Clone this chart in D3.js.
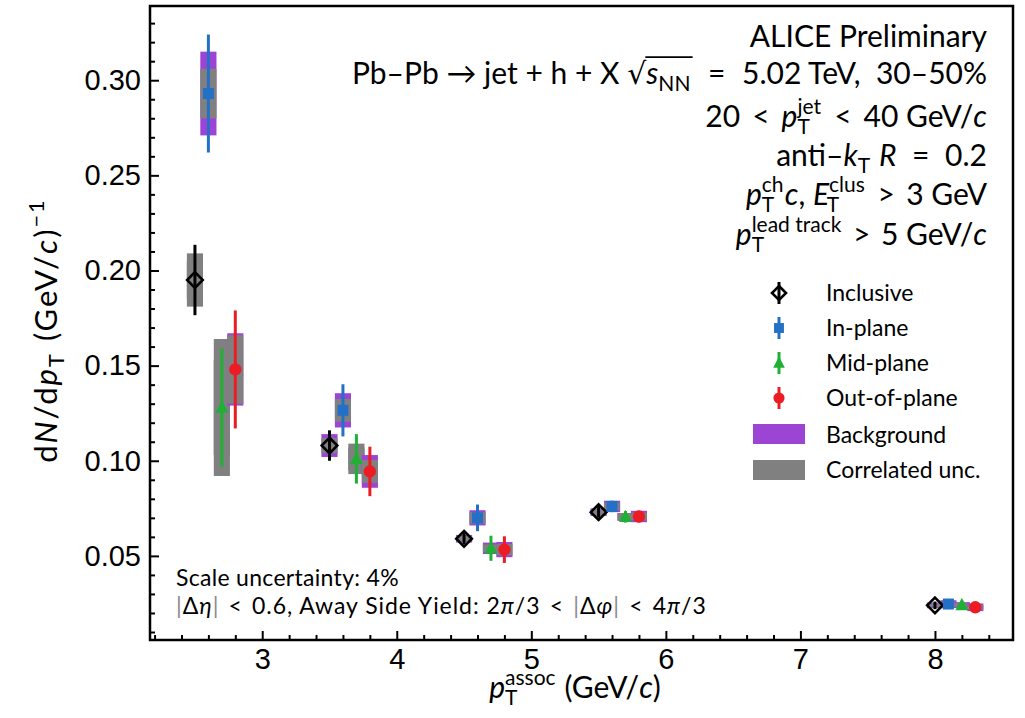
<!DOCTYPE html>
<html>
<head>
<meta charset="utf-8">
<script src="https://cdn.jsdelivr.net/npm/d3@7"></script>
<style>
  body { margin: 0; background: #fff; }
  svg { display: block; }
  svg text { white-space: pre; }
</style>
</head>
<body>
<svg id="chart" width="1025" height="718"></svg>
<script>
// ---- data -------------------------------------------------------------
// associated-hadron pT bin centres (GeV/c); selections are drawn slightly offset
const ptBins = [2.5, 3.5, 4.5, 5.5, 8.0];
const selectionNames = ["Inclusive", "In-plane", "Mid-plane", "Out-of-plane"];
const selectionOffsets = [0.0, 0.1, 0.2, 0.3];

// away-side yields dN/dpT and their uncertainties
const inclusiveYield = [0.195, 0.108, 0.059, 0.073, 0.024];
const inclusiveStat  = [0.0185, 0.008, 0.003, 0.003, 0.002];
const inclusiveBkg   = [0.010, 0.006, 0.002, 0.002, 0.0015];
const inclusiveCorr  = [0.014, 0.004, 0.0015, 0.0015, 0.001];

const inPlaneYield = [0.293, 0.1265, 0.070, 0.076, 0.0247];
const inPlaneStat  = [0.031, 0.0137, 0.007, 0.003, 0.002];
const inPlaneBkg   = [0.022, 0.009, 0.004, 0.003, 0.002];
const inPlaneCorr  = [0.013, 0.006, 0.003, 0.002, 0.001];

const midPlaneYield = [0.128, 0.101, 0.054, 0.0705, 0.0242];
const midPlaneStat  = [0.031, 0.013, 0.0066, 0.003, 0.002];
const midPlaneBkg   = [0.025, 0.006, 0.003, 0.002, 0.0015];
const midPlaneCorr  = [0.036, 0.008, 0.002, 0.002, 0.001];

const outPlaneYield = [0.148, 0.0944, 0.0533, 0.0707, 0.023];
const outPlaneStat  = [0.031, 0.013, 0.007, 0.003, 0.002];
const outPlaneBkg   = [0.019, 0.0086, 0.004, 0.003, 0.002];
const outPlaneCorr  = [0.018, 0.006, 0.003, 0.002, 0.001];

// axis ticks
const xMajorTicks = [3, 4, 5, 6, 7, 8];
const xMinorTicks = d3.range(2.2, 8.59, 0.2);
const yMajorTicks = [0.05, 0.10, 0.15, 0.20, 0.25, 0.30];
const yMinorTicks = d3.range(0.01, 0.335, 0.01);

// ---- styles ------------------------------------------------------------
const SANS = "Lato, 'Open Sans', sans-serif";
const TICKFONT = "'Liberation Sans', Arial, sans-serif";
const C_BLUE = "#2470c6", C_GREEN = "#1fb035", C_RED = "#ec1c24";
const C_PURPLE = "#9c44d4", C_GREY = "#808080";

const series = [
  { name: selectionNames[0], y: inclusiveYield, stat: inclusiveStat, bkg: inclusiveBkg, corr: inclusiveCorr, color: "#000", marker: "diamond" },
  { name: selectionNames[1], y: inPlaneYield,   stat: inPlaneStat,   bkg: inPlaneBkg,   corr: inPlaneCorr,   color: C_BLUE, marker: "square" },
  { name: selectionNames[2], y: midPlaneYield,  stat: midPlaneStat,  bkg: midPlaneBkg,  corr: midPlaneCorr,  color: C_GREEN, marker: "triangle" },
  { name: selectionNames[3], y: outPlaneYield,  stat: outPlaneStat,  bkg: outPlaneBkg,  corr: outPlaneCorr,  color: C_RED, marker: "circle" }
];
series.forEach((s, k) => {
  s.points = ptBins.map((pt, i) => ({ x: pt + selectionOffsets[k], y: s.y[i], stat: s.stat[i], bkg: s.bkg[i], corr: s.corr[i] }));
});

// ---- frame and scales --------------------------------------------------
const L = 150, T = 6, R = 1013, B = 640;
const svg = d3.select("#chart");
const x = d3.scaleLinear().domain([2.166, 8.58]).range([L, R]);
const y = d3.scaleLinear().domain([0.0058, 0.339]).range([B, T]);
const boxHalf = 0.06;

// ---- rich text helper (italics, sub/superscripts, operators, radicals) --
function rich(parent, parts, size, opt) {
  const g = parent.append("g");
  const fill = opt.fill || "#000";
  const ls = opt.ls || 0;
  const opPad = (opt.opPad !== undefined ? opt.opPad : 0.2) * size;
  let cx = 0;
  const rads = [];
  function put(txt, fs, dy, italic, family, color) {
    return g.append("text")
      .attr("x", cx).attr("y", dy)
      .attr("font-size", fs)
      .attr("font-family", family || SANS)
      .attr("font-style", italic ? "italic" : "normal")
      .attr("letter-spacing", ls)
      .attr("fill", color || fill)
      .text(txt);
  }
  const len = t => t.node().getComputedTextLength();
  parts.forEach(p => {
    if (typeof p === "string") { cx += len(put(p, size, 0, false)); }
    else if (p.i !== undefined) { cx += len(put(p.i, size, 0, true)) + (p.k || 0) * size; }
    else if (p.c !== undefined) { cx += len(put(p.c, size, 0, !!p.it, null, p.col)); }
    else if (p.op !== undefined) { cx += opPad; cx += len(put(p.op, size, 0, false)); cx += opPad; }
    else if (p.sp !== undefined) { cx += p.sp * size; }
    else if (p.sub !== undefined || p.sup !== undefined) {
      const x0 = cx;
      let w1 = 0, w2 = 0;
      if (p.sub !== undefined) { cx = x0 - (p.subk || 0) * size; w1 = len(put(p.sub, size * 0.7, size * 0.22, false)) - (p.subk || 0) * size; }
      if (p.sup !== undefined) { cx = x0; w2 = len(put(p.sup, size * 0.7, -size * 0.42, false)); }
      cx = x0 + Math.max(w1, w2) + size * 0.04;
    }
    else if (p.rad) {
      const t = put("\u221A", size, 0, false, "'DejaVu Sans', sans-serif");
      const bb = t.node().getBBox();
      cx += len(t);
      rads.push({ x: cx - 1, y: bb.y + 1.2 });
    }
    else if (p.radEnd) {
      const r = rads.pop();
      g.append("line").attr("x1", r.x).attr("x2", cx + 1).attr("y1", r.y).attr("y2", r.y)
        .attr("stroke", fill).attr("stroke-width", size * 0.06);
    }
  });
  const w = cx;
  let off = 0;
  if (opt.anchor === "end") off = -w; else if (opt.anchor === "middle") off = -w / 2;
  const rot = opt.rotate ? ` rotate(${opt.rotate})` : "";
  g.attr("transform", `translate(${opt.x},${opt.y})${rot} translate(${off},0)`);
  return g;
}

// ---- axes ---------------------------------------------------------------
const axisY = svg.append("g").attr("transform", `translate(${L},0)`)
  .call(d3.axisLeft(y).tickValues(yMajorTicks).tickFormat(d3.format(".2f")).tickSizeInner(-9).tickSizeOuter(0).tickPadding(9));
const axisYMinor = svg.append("g").attr("transform", `translate(${L},0)`)
  .call(d3.axisLeft(y).tickValues(yMinorTicks.filter(v => yMajorTicks.every(m => Math.abs(m - v) > 1e-6))).tickFormat("").tickSizeInner(-5).tickSizeOuter(0));
const axisX = svg.append("g").attr("transform", `translate(0,${B})`)
  .call(d3.axisBottom(x).tickValues(xMajorTicks).tickFormat(d3.format("d")).tickSizeInner(-9).tickSizeOuter(0).tickPadding(8));
const axisXMinor = svg.append("g").attr("transform", `translate(0,${B})`)
  .call(d3.axisBottom(x).tickValues(xMinorTicks.filter(v => xMajorTicks.every(m => Math.abs(m - v) > 1e-6))).tickFormat("").tickSizeInner(-5).tickSizeOuter(0));
[axisY, axisYMinor, axisX, axisXMinor].forEach(a => {
  a.select(".domain").remove();
  a.selectAll(".tick line").attr("stroke", "#000").attr("stroke-width", 2);
  a.selectAll("text").attr("font-family", TICKFONT).attr("font-size", 29).attr("fill", "#000");
});

// ---- uncertainty boxes ------------------------------------------------
const boxes = svg.append("g");
series.forEach(s => {
  s.points.forEach(p => {
    boxes.append("rect")
      .attr("x", x(p.x - boxHalf)).attr("width", x(p.x + boxHalf) - x(p.x - boxHalf))
      .attr("y", y(p.y + p.bkg)).attr("height", y(p.y - p.bkg) - y(p.y + p.bkg))
      .attr("fill", C_PURPLE);
    boxes.append("rect")
      .attr("x", x(p.x - boxHalf)).attr("width", x(p.x + boxHalf) - x(p.x - boxHalf))
      .attr("y", y(p.y + p.corr)).attr("height", y(p.y - p.corr) - y(p.y + p.corr))
      .attr("fill", C_GREY);
  });
});

// ---- markers -----------------------------------------------------------
function drawMarker(g, type, cx, cy, color, scale) {
  const k = scale || 1;
  if (type === "diamond") {
    const h = 7.8 * k;
    g.append("path").attr("d", `M${cx},${cy - h}L${cx + h},${cy}L${cx},${cy + h}L${cx - h},${cy}Z`)
      .attr("fill", "none").attr("stroke", color).attr("stroke-width", 2.6);
  } else if (type === "square") {
    const h = 5.5 * k;
    g.append("rect").attr("x", cx - h).attr("y", cy - h).attr("width", 2 * h).attr("height", 2 * h).attr("fill", color);
  } else if (type === "triangle") {
    const h = 6.5 * k;
    g.append("path").attr("d", `M${cx},${cy - h * 1.1}L${cx + h},${cy + h * 0.8}L${cx - h},${cy + h * 0.8}Z`).attr("fill", color);
  } else {
    g.append("circle").attr("cx", cx).attr("cy", cy).attr("r", 6.2 * k).attr("fill", color);
  }
}

const marks = svg.append("g");
series.forEach(s => {
  s.points.forEach(p => {
    marks.append("line")
      .attr("x1", x(p.x)).attr("x2", x(p.x))
      .attr("y1", y(p.y + p.stat)).attr("y2", y(p.y - p.stat))
      .attr("stroke", s.color).attr("stroke-width", 3);
    drawMarker(marks, s.marker, x(p.x), y(p.y), s.color);
  });
});

// ---- frame --------------------------------------------------------------
svg.append("rect").attr("x", L).attr("y", T).attr("width", R - L).attr("height", B - T)
  .attr("fill", "none").attr("stroke", "#000").attr("stroke-width", 2.5);

// ---- legend -----------------------------------------------------------
const leg = svg.append("g");
const legRows = [293, 328, 363, 398];
series.forEach((s, k) => {
  const ly = legRows[k];
  leg.append("line").attr("x1", 779).attr("x2", 779).attr("y1", ly - 11).attr("y2", ly + 11)
    .attr("stroke", s.color).attr("stroke-width", 3);
  drawMarker(leg, s.marker, 779, ly, s.color, 0.9);
  leg.append("text").attr("x", 826).attr("y", ly + 8).attr("font-family", SANS).attr("font-size", 23).attr("fill", "#000").text(s.name);
});
leg.append("rect").attr("x", 753).attr("y", 424).attr("width", 52).attr("height", 20).attr("fill", C_PURPLE);
leg.append("text").attr("x", 826).attr("y", 443).attr("font-family", SANS).attr("font-size", 23).text("Background");
leg.append("rect").attr("x", 753).attr("y", 460).attr("width", 52).attr("height", 20).attr("fill", C_GREY);
leg.append("text").attr("x", 826).attr("y", 478).attr("font-family", SANS).attr("font-size", 23).text("Correlated unc.");

// ---- physics annotations ----------------------------------------------
const ann = svg.append("g");
const AX = 987, AS = 30;
rich(ann, ["ALICE Preliminary"], AS, { x: AX, y: 47, anchor: "end" });
rich(ann, ["Pb\u2013Pb \u2192 jet + h + X ", { rad: true }, { i: "s" }, { sub: "NN" }, { radEnd: true }, { op: "=" }, "5.02 TeV,  30\u201350%"], AS, { x: AX, y: 84, anchor: "end", opPad: 0.55 });
rich(ann, ["20", { op: "<" }, { i: "p" }, { sub: "T", sup: "jet" }, { op: "<" }, "40 GeV/", { i: "c" }], AS, { x: AX, y: 127, anchor: "end", opPad: 0.4 });
rich(ann, ["anti\u2013", { i: "k" }, { sub: "T" }, " ", { i: "R" }, { op: "=" }, "0.2"], AS, { x: AX, y: 166, anchor: "end", opPad: 0.52 });
rich(ann, [{ i: "p" }, { sub: "T", sup: "ch" }, { i: "c" }, ", ", { i: "E" }, { sub: "T", sup: "clus", subk: 0.08 }, { op: ">" }, "3 GeV"], AS, { x: AX, y: 205, anchor: "end", opPad: 0.38 });
rich(ann, [{ i: "p" }, { sub: "T", sup: "lead track" }, { op: ">" }, "5 GeV/", { i: "c" }], AS, { x: AX, y: 245, anchor: "end", opPad: 0.35 });

const BS = 23;
rich(ann, ["Scale uncertainty: 4%"], BS, { x: 176, y: 586, ls: 0.3 });
rich(ann, [{ c: "|", col: "#8a8a8a" }, "\u0394", { i: "\u03B7" }, { c: "|", col: "#8a8a8a" }, { op: "<" }, "0.6, Away Side Yield: 2", { i: "\u03C0" }, "/3", { op: "<" },
  { c: "|", col: "#8a8a8a" }, "\u0394", { i: "\u03C6" }, { c: "|", col: "#8a8a8a" }, { op: "<" }, "4", { i: "\u03C0" }, "/3"], BS, { x: 176, y: 614, ls: 0.95, opPad: 0.4 });

// ---- axis titles --------------------------------------------------------
rich(svg, [{ i: "p" }, { sub: "T", sup: "assoc" }, " (GeV/", { i: "c" }, ")"], 30, { x: 575, y: 698, anchor: "middle" });
rich(svg, ["d", { i: "N" }, "/d", { i: "p" }, { sub: "T" }, " (GeV/", { i: "c" }, ")", { sup: "\u22121" }], 31, { x: 57, y: 330, anchor: "middle", rotate: -90, ls: 2 });
</script>
</body>
</html>
